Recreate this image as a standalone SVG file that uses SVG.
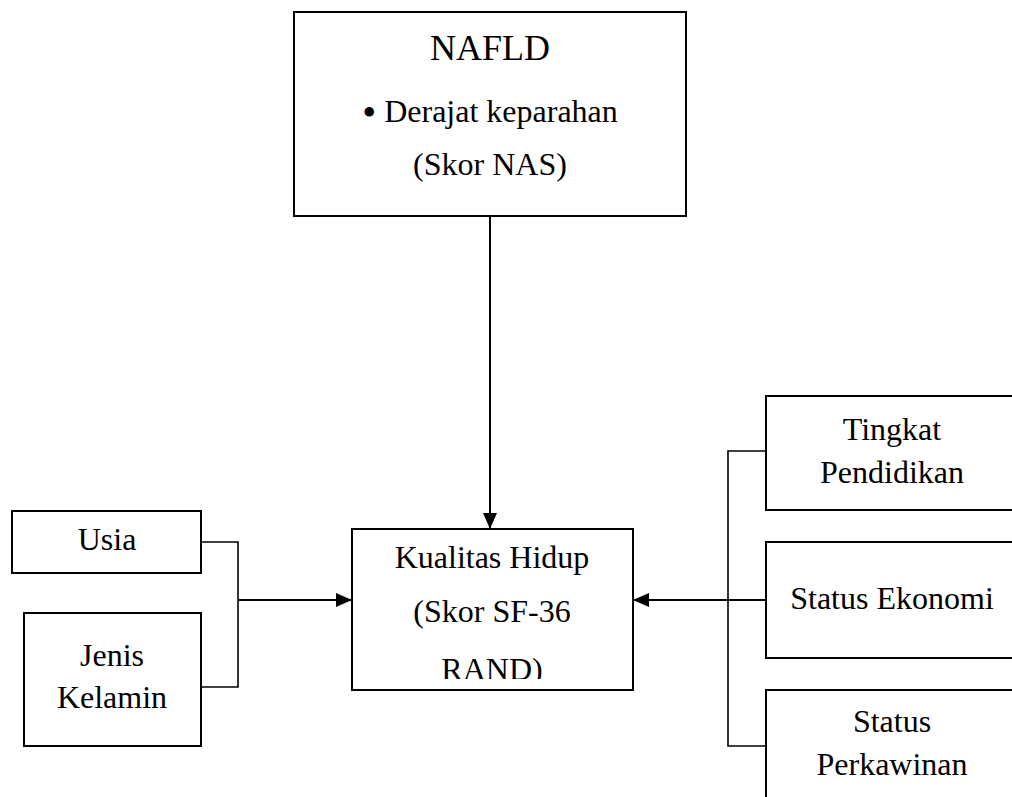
<svg xmlns="http://www.w3.org/2000/svg" width="1012" height="797" viewBox="0 0 1012 797">
<style>
.box{fill:#fff;stroke:#000;stroke-width:2}
.t{font-family:"Liberation Serif","Times New Roman",serif;font-size:32px;fill:#000;text-anchor:middle}
.big{font-size:36px}
.ln{fill:none;stroke:#000;stroke-width:2}
.br{fill:none;stroke:#000;stroke-width:1.6}
</style>
<defs>
<marker id="arr" markerUnits="userSpaceOnUse" markerWidth="16" markerHeight="14" refX="16" refY="7" orient="auto">
<path d="M0,0 L16,7 L0,14 Z" fill="#000"/>
</marker>
<clipPath id="kclip"><rect x="352" y="529" width="281" height="150"/></clipPath>
</defs>
<rect width="1012" height="797" fill="#fff"/>
<g id="connectors">
<line class="ln" x1="490" y1="216" x2="490" y2="529" marker-end="url(#arr)"/>
<path class="br" d="M201,542 H238 V687 H201"/>
<line class="ln" x1="238" y1="600" x2="352" y2="600" marker-end="url(#arr)"/>
<path class="br" d="M766,451 H728 V746 H766"/>
<line class="ln" x1="766" y1="600" x2="633" y2="600" marker-end="url(#arr)"/>
</g>
<g id="nafld">
<rect class="box" x="294" y="12" width="392" height="204"/>
<text class="t big" x="490" y="60">NAFLD</text>
<text class="t" x="490" y="122"><tspan font-size="40" dy="4">•</tspan><tspan dy="-4"> Derajat keparahan</tspan></text>
<text class="t" x="490" y="175">(Skor NAS)</text>
</g>
<g id="kualitas">
<rect class="box" x="352" y="529" width="281" height="161"/>
<g clip-path="url(#kclip)">
<text class="t" x="492" y="568">Kualitas Hidup</text>
<text class="t" x="492" y="622">(Skor SF-36</text>
<text class="t" x="492" y="680">RAND)</text>
</g>
</g>
<g id="usia">
<rect class="box" x="12" y="511" width="189" height="62"/>
<text class="t" x="107" y="550">Usia</text>
</g>
<g id="jenis">
<rect class="box" x="24" y="613" width="177" height="133"/>
<text class="t" x="112" y="666">Jenis</text>
<text class="t" x="112" y="708">Kelamin</text>
</g>
<g id="tingkat">
<rect class="box" x="766" y="396" width="260" height="114"/>
<text class="t" x="892" y="440">Tingkat</text>
<text class="t" x="892" y="483">Pendidikan</text>
</g>
<g id="ekonomi">
<rect class="box" x="766" y="542" width="260" height="116"/>
<text class="t" x="892" y="609">Status Ekonomi</text>
</g>
<g id="perkawinan">
<rect class="box" x="766" y="690" width="260" height="130"/>
<text class="t" x="892" y="732">Status</text>
<text class="t" x="892" y="775">Perkawinan</text>
</g>
</svg>
